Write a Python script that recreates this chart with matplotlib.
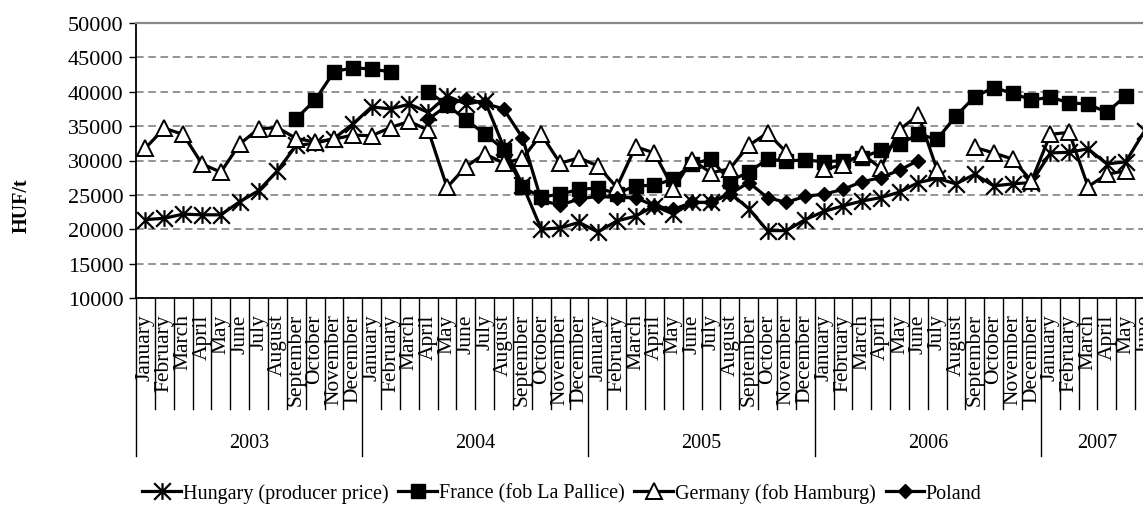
import matplotlib.pyplot as plt
import numpy as np
from matplotlib.path import Path

plt.rcParams['font.family'] = ['Liberation Serif', 'DejaVu Serif']

months = ['January', 'February', 'March', 'April', 'May', 'June', 'July',
          'August', 'September', 'October', 'November', 'December']
years = ['2003', '2004', '2005', '2006', '2007']
n_months = [12, 12, 12, 12, 6]

nan = np.nan
# HUF/t, January 2003 .. June 2007
hungary = [21400, 21600, 22200, 22100, 22100, 24000, 25600, 28500, 32200, 32500, 33200, 35300,
           37800, 37500, 38200, 37000, 39400, 38200, 38700, 32000, 26500, 20000, 20200, 21000,
           19600, 21200, 21900, 23400, 22200, 23900, 23900, 25300, 23000, 19800, 19800, 21400,
           22600, 23400, 24100, 24600, 25400, 26800, 27400, 26600, 28000, 26300, 26600, 26800,
           31100, 31200, 31700, 29500, 29800, 34300]
france = [nan, nan, nan, nan, nan, nan, nan, nan, 36100, 38800, 42900, 43500,
          43300, 42900, nan, 40000, 38100, 35900, 33900, 31600, 26100, 24700, 25100, 25800,
          26000, 25200, 26300, 26400, 27300, 29500, 30200, 27000, 28300, 30200, 29900, 30100,
          29800, 30000, 30400, 31500, 32400, 33800, 33100, 36500, 39300, 40600, 39800, 38800,
          39200, 38400, 38200, 37000, 39400, nan]
germany = [31800, 34700, 33800, 29500, 28300, 32400, 34600, 34800, 33200, 32700, 33100, 33700,
           33600, 34800, 35700, 34400, 26100, 29100, 31000, 29600, 30300, 33800, 29600, 30400,
           29200, 26100, 32000, 31100, 25900, 30100, 28200, 28800, 32200, 34000, 31200, nan,
           28700, 29400, 31000, 28900, 34500, 36600, 28600, nan, 31900, 31100, 30200, 27000,
           33800, 34100, 26200, 28000, 28500, nan]
poland = [nan, nan, nan, nan, nan, nan, nan, nan, nan, nan, nan, nan,
          nan, nan, nan, 36000, 38000, 39000, 38300, 37500, 33300, 24200, 23500, 24400,
          24800, 24600, 24600, 23400, 22900, 23900, 23900, 25100, 26800, 24600, 23900, 24800,
          25100, 25800, 26900, 27500, 28600, 30000, nan, nan, nan, nan, nan, nan,
          nan, nan, nan, nan, nan, nan]

labels = []
for y, n in zip(years, n_months):
    labels += months[:n]
x = np.arange(len(labels))

# Excel-style star: an X with a vertical bar through it
star = Path([(0, -1), (0, 1), (-1, -1), (1, 1), (-1, 1), (1, -1)],
            [Path.MOVETO, Path.LINETO, Path.MOVETO, Path.LINETO, Path.MOVETO, Path.LINETO])

fig = plt.figure(figsize=(11.43, 5.06), dpi=100)
ax = fig.add_axes([136 / 1143, 207 / 506, 1018 / 1143, 275 / 506])

lw = 2.3
ax.plot(x, hungary, color='black', lw=lw, marker=star, ms=12, mew=1.6, mec='black',
        label='Hungary (producer price)', zorder=3)
ax.plot(x, france, color='black', lw=lw, marker='s', ms=9.5,
        label='France (fob La Pallice)', zorder=4)
ax.plot(x, germany, color='black', lw=lw, marker='^', ms=11, mfc='white', mec='black', mew=1.4,
        label='Germany (fob Hamburg)', zorder=5)
ax.plot(x, poland, color='black', lw=lw, marker='D', ms=7.5,
        label='Poland', zorder=6)

ax.set_xlim(-0.5, len(labels) - 0.5)
ax.set_ylim(10000, 50000)
ax.set_yticks(np.arange(10000, 50001, 5000))
ax.tick_params(axis='y', labelsize=16, length=5, width=1, pad=4, direction='out')
ax.yaxis.grid(True, linestyle=(0, (5, 3)), color='#777777', lw=1.1)
ax.set_axisbelow(True)

ax.set_xticks(x)
ax.set_xticklabels(labels, rotation=90, fontsize=15.5, va='top', ha='center')
ax.tick_params(axis='x', length=0, pad=11)

ax.spines['top'].set_color('#888888')
ax.spines['top'].set_linewidth(1.6)
ax.spines['right'].set_visible(False)
ax.spines['left'].set_linewidth(1.3)
ax.spines['bottom'].set_linewidth(1.3)

# category separators and year groups below the axis
trans = ax.get_xaxis_transform()
year_starts = np.cumsum([0] + n_months)
for k in range(len(labels) + 1):
    bottom = -0.575 if k in year_starts else -0.404
    ax.plot([k - 0.5, k - 0.5], [0, bottom], color='black', lw=1.0,
            transform=trans, clip_on=False)
for y, s, n in zip(years, year_starts[:-1], n_months):
    ax.text(s + n / 2 - 0.5, -0.525, y, transform=trans, ha='center', va='center', fontsize=14.5)

fig.text(22 / 1143, 1 - 206 / 506, 'HUF/t', rotation=90, ha='center', va='center',
         fontsize=14.5, fontweight='bold')

fig.legend(loc='center', bbox_to_anchor=(562 / 1143, 1 - 494 / 506), ncol=4, frameon=False,
           fontsize=14.5, handlelength=1.9, handletextpad=0.1, columnspacing=0.5,
           borderpad=0)

fig.savefig('out.png', dpi=100)
